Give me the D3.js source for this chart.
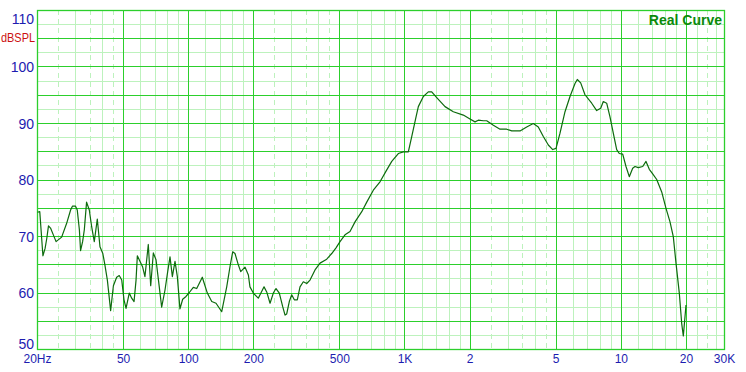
<!DOCTYPE html>
<html>
<head>
<meta charset="utf-8">
<script src="https://cdn.jsdelivr.net/npm/d3@7"></script>
<style>
  html, body { margin: 0; padding: 0; background: #ffffff; }
  svg { display: block; }
</style>
</head>
<body>
<svg id="chart" width="746" height="372"></svg>
<script>
// ---------- DATA ----------
const freqs = [20.1,20.6,21.3,21.8,22.2,22.6,23.1,23.8,24.5,26.0,27.4,28.6,29.2,30.1,30.7,31.4,31.8,32.5,33.1,33.9,
  34.9,35.8,36.8,38.0,39.1,40.3,41.2,42.3,43.8,45.1,46.7,48.0,49.3,50.5,51.6,53.4,54.8,56.2,57.4,58.2,
  59.9,61.6,63.1,64.3,65.4,67.1,69.0,71.0,73.5,75.4,78.1,80.4,82.4,84.5,86.9,89.1,91.6,94.3,97.7,101.2,
  105.6,109.5,116.2,122.6,128.5,134.5,142.9,150.7,156.1,160.6,164.6,170.5,174.9,183.0,189.8,193.0,200,210.9,224.2,230.7,
  239.0,247.5,254.7,263.8,273.5,280.4,285.4,293.4,301.0,309.5,319.5,328.8,340.6,353.2,365.8,385.8,406.9,437.0,460.9,482.4,
  503.4,530.9,559.9,590.6,634.5,669.1,717.6,770.5,828.0,873.2,936.4,987.7,1041.7,1080,1130.9,1158.8,1222.2,1288.8,1336.3,1409.4,
  1539.7,1681.6,1870.4,2008.3,2118.4,2193.8,2313.8,2399.0,2575.2,2765.6,2969.0,3131.9,3420.5,3672.1,3939.7,4155.2,4383.6,4623.0,4844.4,5017.8,
  5235.7,5522.0,5823.7,6141.9,6293.5,6524.7,6830.6,7336.2,7737.0,8073.8,8300,8605,8913,9232,9572,9840,10205,10570,10947,11350,
  11632,12047,12628,13078,13545,14044,14656,15457,16181,16885,17487,17998,18642,19125,19455,19807,20022];
const spl = [74.2,74.3,66.5,67.8,69.6,71.8,71.4,70.2,69.0,69.8,72.2,74.6,75.3,75.3,74.6,71.1,67.4,69.0,71.1,76.0,
  74.6,71.6,69.0,73.0,68.1,66.9,64.9,62.2,56.8,61.2,62.7,63.0,62.2,58.7,57.2,59.9,59.0,58.4,62.2,66.5,
  65.5,64.5,62.8,65.8,68.5,61.2,67.0,65.8,61.0,57.4,60.4,63.7,66.3,62.8,65.5,62.8,57.1,58.8,59.3,60.0,
  60.9,60.7,62.7,59.9,58.4,58.1,56.6,61.0,64.6,67.2,66.9,64.9,63.7,64.5,63.1,61.0,59.9,59.0,61.0,60.1,
  58.1,59.9,60.7,59.9,57.5,56.0,56.2,58.4,59.6,58.7,58.7,61.0,61.9,61.6,62.2,64.0,65.2,65.9,66.9,67.9,
  69.0,70.2,70.8,72.5,74.3,76.0,78.1,79.6,81.7,83.2,84.6,84.9,84.9,87.6,91.1,92.9,94.7,95.5,95.5,94.5,
  92.9,92.0,91.4,90.7,90.2,90.5,90.4,90.4,89.6,88.9,88.9,88.6,88.6,89.3,89.9,89.3,87.6,86.1,85.3,85.5,
  88.2,92.0,94.7,97.0,97.7,97.1,95.0,93.5,92.2,92.6,93.8,93.5,91.1,88.2,85.3,84.6,84.5,82.3,80.5,82.0,
  82.3,82.1,82.3,83.2,81.8,81.0,80.0,77.8,74.9,72.5,69.9,65.2,59.9,54.5,52.3,55.7,57.8];

const xTickValues = [20, 50, 100, 200, 500, 1000, 2000, 5000, 10000, 20000, 30000];
const xTickLabels = ["20Hz", "50", "100", "200", "500", "1K", "2", "5", "10", "20", "30K"];
const yTickValues = [50, 60, 70, 80, 90, 100, 110];

const gridMajorFreqs = [50, 100, 200, 500, 1000, 2000, 5000, 10000, 20000];
const gridMinorFreqs = [30, 40, 60, 70, 80, 90, 120, 140, 160, 180, 300, 400, 600, 700, 800, 900,
  1200, 1400, 1600, 1800, 3000, 4000, 6000, 7000, 8000, 9000, 12000, 14000, 16000, 18000, 22500, 27500];
const gridDashedFreqs = [25, 35, 45, 250, 350, 450, 2500, 3500, 4500, 25000];
const gridMajorDb = [55, 60, 65, 70, 75, 80, 85, 90, 95, 100, 105];
const gridMinorDb = [52.5, 57.5, 62.5, 67.5, 72.5, 77.5, 82.5, 87.5, 92.5, 97.5, 102.5, 107.5];

// ---------- CHART ----------
const svg = d3.select("#chart");
const x = d3.scaleLog().domain([20, 30000]).range([37, 724]);
const y = d3.scaleLinear().domain([50, 110]).range([349, 10]);

const majorCol = "#2ccf2c";
const minorCol = "#bdf2bd";
const px = v => Math.round(v) + 0.5;

const g = svg.append("g");

g.selectAll("line.hmin").data(gridMinorDb).join("line")
  .attr("x1", x(20)).attr("x2", x(30000))
  .attr("y1", d => px(y(d))).attr("y2", d => px(y(d)))
  .attr("stroke", minorCol).attr("stroke-width", 1);
g.selectAll("line.vmin").data(gridMinorFreqs).join("line")
  .attr("y1", y(110)).attr("y2", y(50))
  .attr("x1", d => px(x(d))).attr("x2", d => px(x(d)))
  .attr("stroke", minorCol).attr("stroke-width", 1);
g.selectAll("line.vdash").data(gridDashedFreqs).join("line")
  .attr("y1", y(110)).attr("y2", y(50))
  .attr("x1", d => px(x(d))).attr("x2", d => px(x(d)))
  .attr("stroke", minorCol).attr("stroke-width", 1)
  .attr("stroke-dasharray", "5,4");
g.selectAll("line.hmaj").data(gridMajorDb).join("line")
  .attr("x1", x(20)).attr("x2", x(30000))
  .attr("y1", d => px(y(d))).attr("y2", d => px(y(d)))
  .attr("stroke", majorCol).attr("stroke-width", 1);
g.selectAll("line.vmaj").data(gridMajorFreqs).join("line")
  .attr("y1", y(110)).attr("y2", y(50))
  .attr("x1", d => px(x(d))).attr("x2", d => px(x(d)))
  .attr("stroke", majorCol).attr("stroke-width", 1);
g.append("rect")
  .attr("x", px(x(20))).attr("y", px(y(110)))
  .attr("width", Math.round(x(30000)) - Math.round(x(20)))
  .attr("height", Math.round(y(50)) - Math.round(y(110)))
  .attr("fill", "none").attr("stroke", majorCol).attr("stroke-width", 1.3);

// curve
const pts = freqs.map((f, i) => [f, spl[i]]);
const line = d3.line().x(d => x(d[0])).y(d => y(d[1]));
svg.append("path").datum(pts)
  .attr("d", line)
  .attr("fill", "none")
  .attr("stroke", "#0d6b0d")
  .attr("stroke-width", 1.2)
  .attr("stroke-linejoin", "round");

// axes (labels only)
const labelCol = "#1c1cb0";
const yAxis = d3.axisLeft(y).tickValues(yTickValues).tickSize(0).tickPadding(0)
  .tickFormat(d => String(d));
const ya = svg.append("g").attr("transform", "translate(34,0)").call(yAxis);
ya.select(".domain").remove();
ya.selectAll("text")
  .attr("fill", labelCol)
  .style("font-family", "'Liberation Sans', Arial, sans-serif")
  .style("font-size", "14px")
  .attr("dy", "0.36em")
  .attr("y", d => d === 110 ? 8 : (d === 50 ? -6 : 0));

const xAxis = d3.axisBottom(x).tickValues(xTickValues).tickSize(0).tickPadding(0)
  .tickFormat((d, i) => xTickLabels[i]);
const xa = svg.append("g").attr("transform", "translate(0,354)").call(xAxis);
xa.select(".domain").remove();
xa.selectAll("text")
  .attr("fill", labelCol)
  .style("font-family", "'Liberation Sans', Arial, sans-serif")
  .style("font-size", "12px")
  .attr("dy", "0.71em");

// unit label
svg.append("text")
  .attr("x", 1).attr("y", 42)
  .attr("fill", "#cc1010")
  .style("font-family", "'Liberation Sans', Arial, sans-serif")
  .style("font-size", "12.5px")
  .attr("textLength", 34)
  .attr("lengthAdjust", "spacingAndGlyphs")
  .text("dBSPL");

// title
svg.append("text")
  .attr("x", 722).attr("y", 25)
  .attr("text-anchor", "end")
  .attr("fill", "#0a8a0a")
  .style("font-family", "'Liberation Sans', Arial, sans-serif")
  .style("font-size", "14px")
  .style("font-weight", "bold")
  .text("Real Curve");
</script>
</body>
</html>
